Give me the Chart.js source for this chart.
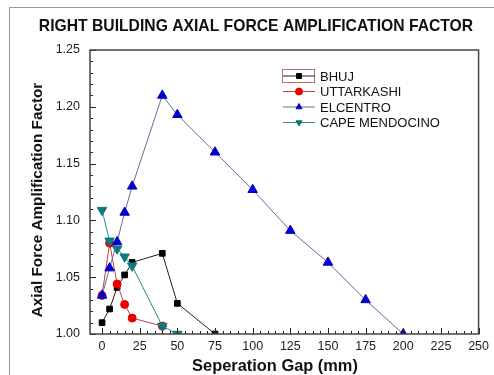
<!DOCTYPE html>
<html lang="en">
<head>
<meta charset="UTF-8">
<title>Right Building Axial Force Amplification Factor</title>
<script src="https://cdn.jsdelivr.net/npm/chart.js"></script>
<style>
    body { margin: 0; background: #fff; }
    .wrap { position: relative; width: 494px; height: 375px; }
    .frame { position: absolute; left: 9px; top: 7px; right: 0; bottom: 0; border-left: 1px solid #999; border-top: 1px solid #999; pointer-events: none; }
</style>
</head>
<body>
<div class="wrap">
    <canvas id="afChart"></canvas>
    <div class="frame"></div>
</div>
<script>
// separation gap (mm) and amplification factor for each record
const bhujGap = [0, 5, 10, 15, 20, 40, 50, 75];
const bhujVal = [1.010, 1.022, 1.041, 1.052, 1.063, 1.071, 1.027, 1.000];

const uttarkashiGap = [0, 5, 10, 15, 20, 40];
const uttarkashiVal = [1.034, 1.080, 1.044, 1.026, 1.014, 1.007];

const elcentroGap = [0, 5, 10, 15, 20, 40, 50, 75, 100, 125, 150, 175, 200];
const elcentroVal = [1.034, 1.058, 1.081, 1.107, 1.130, 1.210, 1.193, 1.160, 1.127, 1.091, 1.063, 1.030, 1.000];

const capeGap = [0, 5, 10, 15, 20, 40, 50];
const capeVal = [1.109, 1.082, 1.075, 1.068, 1.060, 1.007, 1.000];

const xTicks = [0, 25, 50, 75, 100, 125, 150, 175, 200, 225, 250];
const yTicks = [1.00, 1.05, 1.10, 1.15, 1.20, 1.25];

const chartTitle = 'RIGHT BUILDING AXIAL FORCE AMPLIFICATION FACTOR';
const xTitle = 'Seperation Gap (mm)';
const yTitle = 'Axial Force Amplification Factor';

const FONT = 'Arial, "Liberation Sans", sans-serif';
const pts = (xs, ys) => xs.map((x, i) => ({ x: x, y: ys[i] }));

// titles, inward major/minor ticks, plot frame and the legend
const axisDecor = {
    id: 'axisDecor',
    afterDraw(chart) {
        const ctx = chart.ctx;
        const a = chart.chartArea;
        const xs = chart.scales.x, ys = chart.scales.y;
        ctx.save();

        ctx.fillStyle = '#111';
        ctx.textAlign = 'center';
        ctx.textBaseline = 'middle';
        ctx.font = 'bold 15.7px ' + FONT;
        ctx.fillText(chartTitle, 256, 27);
        ctx.font = 'bold 16.4px ' + FONT;
        ctx.fillText(xTitle, 275, 366);
        ctx.save();
        ctx.translate(38, 200);
        ctx.rotate(-Math.PI / 2);
        ctx.font = 'bold 15.3px ' + FONT;
        ctx.fillText(yTitle, 0, 0);
        ctx.restore();

        ctx.strokeStyle = '#222';
        ctx.lineWidth = 1;
        ctx.beginPath();
        for (let v = 0; v <= 250; v += 5) {
            const px = Math.round(xs.getPixelForValue(v)) + 0.5;
            const len = v % 25 === 0 ? 6 : 3;
            ctx.moveTo(px, a.bottom);
            ctx.lineTo(px, a.bottom - len);
        }
        for (let i = 0; i <= 25; i++) {
            const py = Math.round(ys.getPixelForValue(1 + i / 100)) + 0.5;
            const len = i % 5 === 0 ? 6 : 3;
            ctx.moveTo(a.left, py);
            ctx.lineTo(a.left + len, py);
        }
        ctx.stroke();
        ctx.strokeStyle = '#444';
        ctx.lineWidth = 1.5;
        ctx.strokeRect(a.left, a.top, a.right - a.left, a.bottom - a.top);

        // legend
        const lx = 283, ly = 76, step = 15.5;
        ctx.strokeStyle = '#c07070';
        ctx.lineWidth = 1;
        ctx.strokeRect(282.5, 69.5, 32, 13);
        chart.data.datasets.forEach((ds, i) => {
            const y = ly + i * step;
            ctx.strokeStyle = ds.borderColor;
            ctx.lineWidth = 1;
            ctx.beginPath();
            ctx.moveTo(lx, y);
            ctx.lineTo(lx + 32, y);
            ctx.stroke();
            ctx.fillStyle = ds.pointBackgroundColor;
            ctx.strokeStyle = ds.pointBorderColor;
            Chart.helpers.drawPoint(ctx, {
                pointStyle: ds.pointStyle,
                rotation: ds.pointRotation || 0,
                radius: 3.5,
                borderWidth: 1
            }, lx + 16, y);
            ctx.fillStyle = '#111';
            ctx.font = '13px ' + FONT;
            ctx.textBaseline = 'middle';
            ctx.textAlign = 'left';
            ctx.fillText(ds.label, lx + 37, y + 1);
        });
        ctx.restore();
    }
};

function series(label, data, line, fill, style, rot, ord) {
    return {
        label: label,
        data: data,
        showLine: true,
        borderColor: line,
        borderWidth: 1,
        pointStyle: style,
        pointRotation: rot,
        pointRadius: style === 'triangle' ? 5.5 : 4,
        pointBackgroundColor: fill,
        pointBorderColor: fill,
        pointBorderWidth: 1,
        order: ord
    };
}

new Chart(document.getElementById('afChart'), {
    type: 'scatter',
    data: {
        datasets: [
            series('BHUJ', pts(bhujGap, bhujVal), '#222222', '#000000', 'rect', 0, 4),
            series('UTTARKASHI', pts(uttarkashiGap, uttarkashiVal), '#c04040', '#e80000', 'circle', 0, 3),
            series('ELCENTRO', pts(elcentroGap, elcentroVal), '#6a6a9a', '#0000cc', 'triangle', 0, 1),
            series('CAPE MENDOCINO', pts(capeGap, capeVal), '#2a8a8a', '#0a7a7a', 'triangle', 180, 2)
        ]
    },
    options: {
        responsive: true,
        maintainAspectRatio: false,
        animation: false,
        layout: { padding: { left: 0, right: 13, top: 50, bottom: 0 } },
        plugins: {
            legend: { display: false },
            tooltip: { enabled: false },
            title: { display: false }
        },
        scales: {
            x: {
                type: 'linear',
                min: -8,
                max: 250,
                afterBuildTicks: s => { s.ticks = xTicks.map(v => ({ value: v })); },
                afterFit: s => { s.height = 41; },
                grid: { display: false, drawTicks: false },
                border: { display: false },
                ticks: {
                    padding: 5,
                    color: '#222',
                    font: { family: FONT, size: 12.5 }
                }
            },
            y: {
                type: 'linear',
                min: 1.0,
                max: 1.25,
                afterBuildTicks: s => { s.ticks = yTicks.map(v => ({ value: v })); },
                afterFit: s => { s.width = 90; },
                grid: { display: false, drawTicks: false },
                border: { display: false },
                ticks: {
                    padding: 10,
                    color: '#222',
                    font: { family: FONT, size: 12.5 },
                    callback: v => v.toFixed(2)
                }
            }
        }
    },
    plugins: [axisDecor]
});
</script>
</body>
</html>
